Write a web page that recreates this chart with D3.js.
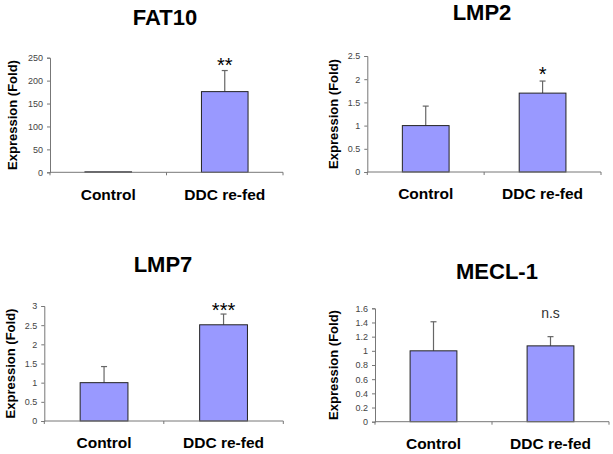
<!DOCTYPE html>
<html><head><meta charset="utf-8">
<script src="https://cdn.jsdelivr.net/npm/d3@7"></script>
<style>
html,body{margin:0;padding:0;background:#fff;}
svg{display:block;font-family:"Liberation Sans",Arial,sans-serif;}
</style></head>
<body><svg id="c" width="613" height="454"></svg>
<script>
const categories = ["Control", "DDC re-fed"];
const titles = ["FAT10", "LMP2", "LMP7", "MECL-1"];
const fat10Values = [1, 176];
const fat10Errors = [0, 46];
const lmp2Values = [1.0, 1.7];
const lmp2Errors = [0.42, 0.26];
const lmp7Values = [1.0, 2.51];
const lmp7Errors = [0.42, 0.28];
const mecl1Values = [1.0, 1.07];
const mecl1Errors = [0.41, 0.13];
const significance = ["**", "*", "***", "n.s"];
const yMaxes = [250, 2.5, 3, 1.6];
const yTicks = [
  [0, 50, 100, 150, 200, 250],
  [0, 0.5, 1, 1.5, 2, 2.5],
  [0, 0.5, 1, 1.5, 2, 2.5, 3],
  [0, 0.2, 0.4, 0.6, 0.8, 1, 1.2, 1.4, 1.6]
];
const yLabel = "Expression (Fold)";

const valuesList = [fat10Values, lmp2Values, lmp7Values, mecl1Values];
const errorsList = [fat10Errors, lmp2Errors, lmp7Errors, mecl1Errors];

// layout per panel
const layouts = [
  {x0: 50, x1: 283, yTop: 57.7, yBot: 172.3, titleX: 165, titleY: 25, ylx: 12, catY: 200, sigY: 72},
  {x0: 367.3, x1: 601, yTop: 56, yBot: 172, titleX: 482, titleY: 20, ylx: 333, catY: 199, sigY: 81},
  {x0: 44.3, x1: 283.3, yTop: 306, yBot: 421, titleX: 163, titleY: 271.5, ylx: 10, catY: 448, sigY: 317},
  {x0: 375, x1: 609, yTop: 308.3, yBot: 421.7, titleX: 497, titleY: 279, ylx: 333, catY: 449, sigY: 318}
];

const svg = d3.select("#c");

layouts.forEach((L, i) => {
  const g = svg.append("g");
  const x = d3.scaleBand().domain(categories).range([L.x0, L.x1]).paddingInner(0).paddingOuter(0);
  const y = d3.scaleLinear().domain([0, yMaxes[i]]).range([L.yBot, L.yTop]);
  const bw = x.bandwidth() * 0.4;
  const vals = valuesList[i], errs = errorsList[i];

  g.append("text").attr("x", L.titleX).attr("y", L.titleY).attr("text-anchor", "middle")
    .attr("font-size", 22).attr("font-weight", "bold").attr("fill", "#000").text(titles[i]);

  const ymid = (L.yTop + L.yBot) / 2;
  g.append("text").attr("transform", `translate(${L.ylx + 4.5},${ymid}) rotate(-90)`)
    .attr("text-anchor", "middle").attr("font-size", 13).attr("font-weight", "bold").attr("fill", "#000")
    .text(yLabel);

  categories.forEach((c, j) => {
    if (errs[j] <= 0) return;
    const cx = x(c) + x.bandwidth() / 2;
    g.append("line").attr("x1", cx).attr("x2", cx).attr("y1", y(vals[j])).attr("y2", y(vals[j] + errs[j]))
      .attr("stroke", "#666").attr("stroke-width", 1.2);
    g.append("line").attr("x1", cx - 3).attr("x2", cx + 3).attr("y1", y(vals[j] + errs[j])).attr("y2", y(vals[j] + errs[j]))
      .attr("stroke", "#666").attr("stroke-width", 1.2);
  });

  g.selectAll("rect.bar").data(categories).enter().append("rect")
    .attr("x", c => x(c) + (x.bandwidth() - bw) / 2)
    .attr("width", bw)
    .attr("y", (c, j) => y(vals[j]))
    .attr("height", (c, j) => L.yBot - y(vals[j]))
    .attr("fill", "#9999ff").attr("stroke", "#222").attr("stroke-width", 1);

  const ya = g.append("g").attr("transform", `translate(${L.x0},0)`)
    .call(d3.axisLeft(y).tickValues(yTicks[i]).tickSize(3).tickPadding(4).tickFormat(d3.format("~g")));
  ya.select(".domain").attr("stroke", "#777");
  ya.selectAll(".tick line").attr("stroke", "#777");
  ya.selectAll(".tick text").attr("font-size", 9).attr("fill", "#444").attr("font-family", "Liberation Sans, Arial, sans-serif");

  const xa = g.append("g").attr("transform", `translate(0,${L.yBot})`);
  xa.append("line").attr("x1", L.x0).attr("x2", L.x1).attr("stroke", "#777");
  [L.x0, L.x0 + x.bandwidth(), L.x1].forEach(tx => {
    xa.append("line").attr("x1", tx).attr("x2", tx).attr("y1", 0).attr("y2", 3).attr("stroke", "#777");
  });

  categories.forEach(c => {
    g.append("text").attr("x", x(c) + x.bandwidth() / 2).attr("y", L.catY).attr("text-anchor", "middle")
      .attr("font-size", 15.5).attr("font-weight", "bold").attr("fill", "#000").text(c);
  });

  const sx = x(categories[1]) + x.bandwidth() / 2;
  const isNs = significance[i] === "n.s";
  g.append("text").attr("x", sx).attr("y", L.sigY).attr("text-anchor", "middle")
    .attr("font-size", isNs ? 14 : 20).attr("fill", isNs ? "#333" : "#000")
    .text(significance[i]);
});
</script>
</body></html>
